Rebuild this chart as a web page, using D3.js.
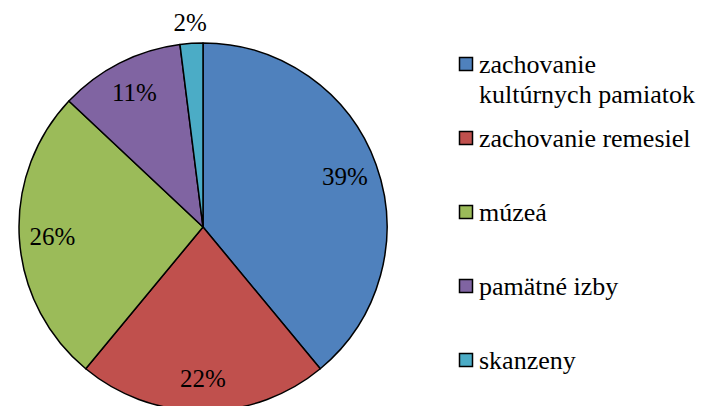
<!DOCTYPE html>
<html>
<head>
<meta charset="utf-8">
<script src="https://cdnjs.cloudflare.com/ajax/libs/d3/7.8.5/d3.min.js"></script>
<style>
  body { margin: 0; background: #fff; }
</style>
</head>
<body>
<script>
// chart data
var categories = ["zachovanie kultúrnych pamiatok", "zachovanie remesiel", "múzeá", "pamätné izby", "skanzeny"];
var legendLines = [["zachovanie", "kultúrnych pamiatok"], ["zachovanie remesiel"], ["múzeá"], ["pamätné izby"], ["skanzeny"]];
var values = [39, 22, 26, 11, 2];
var colors = ["#4F81BD", "#C0504D", "#9BBB59", "#8064A2", "#4BACC6"];

var font = "Liberation Serif";
var w = 702, h = 406;
var cx = 203, cy = 227, r = 184;

var svg = d3.select("body").append("svg")
  .attr("width", w)
  .attr("height", h);

var pie = d3.pie().sort(null).value(function(d){ return d; });
var arcs = pie(values);
var arc = d3.arc().innerRadius(0).outerRadius(r);
var labelArc = d3.arc().innerRadius(r * 0.82).outerRadius(r * 0.82);
var outArc = d3.arc().innerRadius(r + 21).outerRadius(r + 21);

var g = svg.append("g").attr("transform", "translate(" + cx + "," + cy + ")");

g.selectAll("path")
  .data(arcs)
  .enter()
  .append("path")
  .attr("d", arc)
  .attr("fill", function(d, i){ return colors[i]; })
  .attr("stroke", "#000")
  .attr("stroke-width", 1.5)
  .attr("stroke-linejoin", "round");

svg.selectAll(".lbl")
  .data(arcs)
  .enter()
  .append("text")
  .attr("class", "lbl")
  .attr("x", function(d){ return cx + (d.data < 5 ? outArc : labelArc).centroid(d)[0]; })
  .attr("y", function(d){ return cy + (d.data < 5 ? outArc : labelArc).centroid(d)[1]; })
  .attr("text-anchor", "middle")
  .attr("dy", "0.35em")
  .style("font-family", font)
  .style("font-size", "25px")
  .text(function(d){ return d.data + "%"; });

// legend
var legY = d3.scaleLinear().domain([0, 4]).range([64, 360]);

svg.selectAll(".legbox")
  .data(categories)
  .enter()
  .append("rect")
  .attr("class", "legbox")
  .attr("x", 459.5)
  .attr("y", function(d, i){ return legY(i) - 6.5; })
  .attr("width", 13)
  .attr("height", 13)
  .attr("fill", function(d, i){ return colors[i]; })
  .attr("stroke", "#000")
  .attr("stroke-width", 1.5);

legendLines.forEach(function(lines, i){
  lines.forEach(function(line, j){
    svg.append("text")
      .attr("x", 479)
      .attr("y", legY(i) + 9 + j * 30)
      .style("font-family", font)
      .style("font-size", "26px")
      .text(line);
  });
});
</script>
</body>
</html>
